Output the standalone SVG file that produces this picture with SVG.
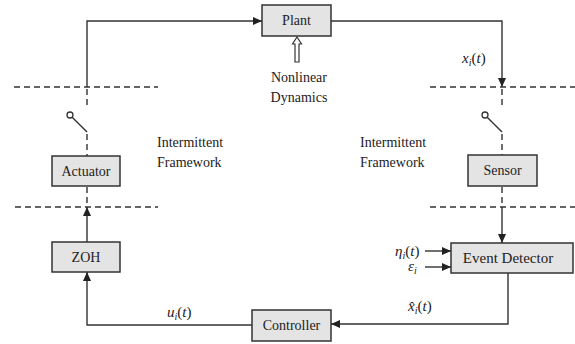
<svg xmlns="http://www.w3.org/2000/svg" width="575" height="344" viewBox="0 0 575 344">
<style>
.box{fill:#e4e4e4;stroke:#333;stroke-width:1.5}
text{font-family:'Liberation Serif','Times New Roman',serif}
.lbl{font-size:14px;fill:#222;text-anchor:middle}
.txt{font-size:14px;fill:#222}
.math{font-size:15px;font-style:italic;fill:#222}
.sub{font-size:10px}
.wire{fill:none;stroke:#333;stroke-width:1.4}
.dash{fill:none;stroke:#333;stroke-width:1.4;stroke-dasharray:6 4}
</style>
<defs>
<marker id="ah" markerWidth="9" markerHeight="8" refX="9" refY="4" orient="auto" markerUnits="userSpaceOnUse">
<path d="M0,0 L9,4 L0,8 Z" fill="#222"/>
</marker>
</defs>
<rect width="575" height="344" fill="#fff"/>

<g id="dashed-boundaries">
<path class="dash" d="M14,87 H158"/>
<path class="dash" d="M15,207 H158"/>
<path class="dash" d="M430,87 H575"/>
<path class="dash" d="M430,207 H575"/>
</g>

<g id="plant"><rect class="box" x="262" y="5" width="69" height="31"/><text class="lbl" x="296.5" y="25">Plant</text></g>
<g id="nonlinear">
<polygon points="297,37 301.5,44 299,44 299,62 295,62 295,44 292.5,44" fill="#fff" stroke="#333" stroke-width="1.2"/>
<text class="lbl" x="299" y="82">Nonlinear</text>
<text class="lbl" x="299" y="102">Dynamics</text>
</g>
<g id="actuator"><rect class="box" x="52" y="156" width="68" height="30"/><text class="lbl" x="86" y="176">Actuator</text></g>
<g id="zoh"><rect class="box" x="52" y="242" width="68" height="30"/><text class="lbl" x="86" y="262">ZOH</text></g>
<g id="sensor"><rect class="box" x="468" y="155" width="69" height="31"/><text class="lbl" x="502.5" y="175">Sensor</text></g>
<g id="event-detector"><rect class="box" x="451" y="243" width="122" height="30"/><text class="lbl" x="508" y="263" style="font-size:15px">Event Detector</text></g>
<g id="controller"><rect class="box" x="252" y="310" width="79" height="31"/><text class="lbl" x="291.5" y="330">Controller</text></g>

<g id="labels">
<text class="txt" x="157" y="147">Intermittent</text>
<text class="txt" x="157" y="167">Framework</text>
<text class="txt" x="360" y="147">Intermittent</text>
<text class="txt" x="360" y="167">Framework</text>
<text class="math" x="462" y="63">x<tspan class="sub" dy="3">i</tspan><tspan dy="-3" font-style="normal">(</tspan>t<tspan font-style="normal">)</tspan></text>
<text class="math" x="167" y="317">u<tspan class="sub" dy="3">i</tspan><tspan dy="-3" font-style="normal">(</tspan>t<tspan font-style="normal">)</tspan></text>
<text class="math" x="408" y="311">x̂<tspan class="sub" dy="3">i</tspan><tspan dy="-3" font-style="normal">(</tspan>t<tspan font-style="normal">)</tspan></text>
<text class="math" x="395" y="256">η<tspan class="sub" dy="3">i</tspan><tspan dy="-3" font-style="normal">(</tspan>t<tspan font-style="normal">)</tspan></text>
<text class="math" x="408" y="271">ε<tspan class="sub" dy="3">i</tspan></text>
</g>

<g id="connectors">
<path class="wire" d="M87,87 V21 H262" marker-end="url(#ah)"/>
<path class="dash" d="M87,89 V106"/>
<circle cx="70" cy="115" r="3" fill="#fff" stroke="#333" stroke-width="1.3"/>
<path class="wire" d="M72.2,117.2 L87,132"/>
<path class="dash" d="M87,134 V156"/>
<path class="dash" d="M87,187 V205"/>
<path class="wire" d="M87,242 V207" marker-end="url(#ah)"/>
<path class="wire" d="M252,325 H87 V272" marker-end="url(#ah)"/>

<path class="wire" d="M331,21 H502 V87" marker-end="url(#ah)"/>
<path class="dash" d="M502,89 V106"/>
<circle cx="485" cy="115" r="3" fill="#fff" stroke="#333" stroke-width="1.3"/>
<path class="wire" d="M487.2,117.2 L502,132"/>
<path class="dash" d="M502,134 V155"/>
<path class="dash" d="M502,187 V205"/>
<path class="wire" d="M502,207 V243" marker-end="url(#ah)"/>
<path class="wire" d="M425,251 H451" marker-end="url(#ah)"/>
<path class="wire" d="M425,267 H451" marker-end="url(#ah)"/>
<path class="wire" d="M508,273 V324 H331" marker-end="url(#ah)"/>
</g>
</svg>
